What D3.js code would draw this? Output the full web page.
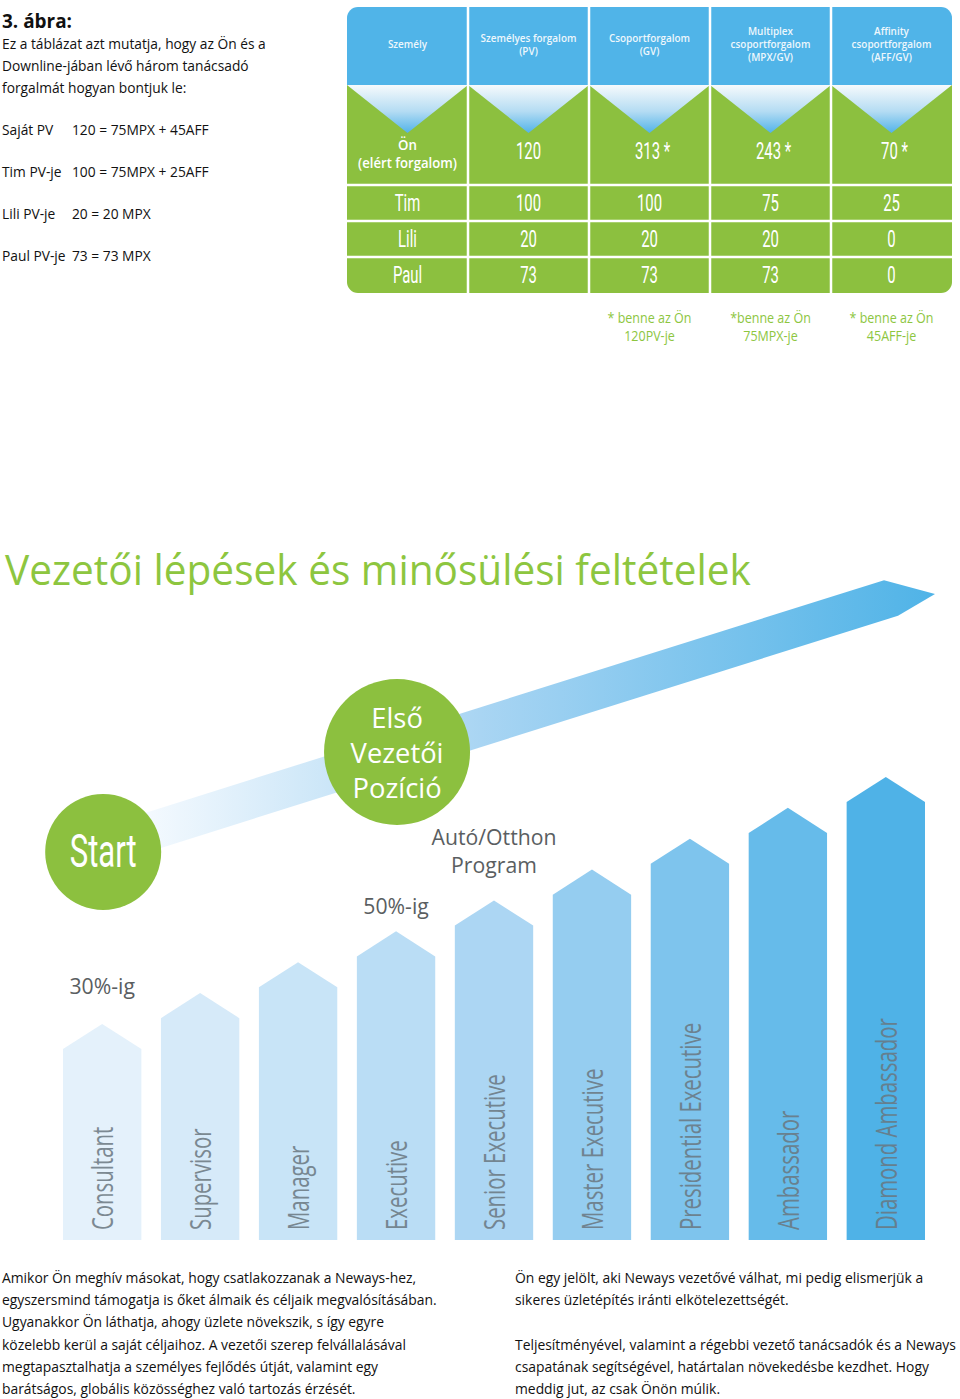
<!DOCTYPE html>
<html>
<head>
<meta charset="utf-8">
<script src="https://cdn.jsdelivr.net/npm/d3@7"></script>
<style>
  body { margin: 0; background: #fff; }
  svg { display: block; }
</style>
</head>
<body>
<div id="app"></div>
<script>
// ---- data ----
var introTitle = '3. ábra:';
var introLines = ['Ez a táblázat azt mutatja, hogy az Ön és a', 'Downline-jában lévő három tanácsadó', 'forgalmát hogyan bontjuk le:'];
var introLabels = ['Saját PV', 'Tim PV-je', 'Lili PV-je', 'Paul PV-je'];
var introFormulas = ['120 = 75MPX + 45AFF', '100 = 75MPX + 25AFF', '20 = 20 MPX', '73 = 73 MPX'];

var headerLines = [['Személy'], ['Személyes forgalom', '(PV)'], ['Csoportforgalom', '(GV)'],
  ['Multiplex', 'csoportforgalom', '(MPX/GV)'], ['Affinity', 'csoportforgalom', '(AFF/GV)']];
var ownLabel = ['Ön', '(elért forgalom)'];
var ownValues = [120, 313, 243, 70];
var ownStarred = [false, true, true, true];
var persons = ['Tim', 'Lili', 'Paul'];
var pvValues = [100, 20, 73];
var gvValues = [100, 20, 73];
var mpxValues = [75, 20, 73];
var affValues = [25, 0, 0];
var footnotes = [['* benne az Ön', '120PV-je'], ['*benne az Ön', '75MPX-je'], ['* benne az Ön', '45AFF-je']];

var chartTitle = 'Vezetői lépések és minősülési feltételek';
var levels = ['Consultant', 'Supervisor', 'Manager', 'Executive', 'Senior Executive',
  'Master Executive', 'Presidential Executive', 'Ambassador', 'Diamond Ambassador'];
var levelSteps = [7, 8, 9, 10, 11, 12, 13, 14, 15];
var startLabel = 'Start';
var firstLeaderLabel = ['Első', 'Vezetői', 'Pozíció'];
var carLabel = ['Autó/Otthon', 'Program'];
var pct30 = '30%-ig';
var pct50 = '50%-ig';

var bottomLeft = ['Amikor Ön meghív másokat, hogy csatlakozzanak a Neways-hez,',
  'egyszersmind támogatja is őket álmaik és céljaik megvalósításában.',
  'Ugyanakkor Ön láthatja, ahogy üzlete növekszik, s így egyre',
  'közelebb kerül a saját céljaihoz. A vezetői szerep felvállalásával',
  'megtapasztalhatja a személyes fejlődés útját, valamint egy',
  'barátságos, globális közösséghez való tartozás érzését.'];
var bottomRight = ['Ön egy jelölt, aki Neways vezetővé válhat, mi pedig elismerjük a',
  'sikeres üzletépítés iránti elkötelezettségét.', '',
  'Teljesítményével, valamint a régebbi vezető tanácsadók és a Neways',
  'csapatának segítségével, határtalan növekedésbe kezdhet. Hogy',
  'meddig jut, az csak Önön múlik.'];

// ---- setup ----
var W = 960, H = 1399;
var green = '#8cc03f', blue = '#50b4e8';
var svg = d3.select('#app').append('svg').attr('width', W).attr('height', H);
var defs = svg.append('defs');

function measure(str, font) {
  var t = svg.append('text').style('font', font).text(str);
  var w = t.node().getComputedTextLength();
  t.remove();
  return w;
}

// text with horizontal squeeze (k) and optional rotation
function label(parent, str, x, y, font, fill, anchor, k, rot) {
  var tr = 'translate(' + x + ',' + y + ')' + (rot ? ' rotate(' + rot + ')' : '') + ' scale(' + k + ',1)';
  return parent.append('text')
    .attr('transform', tr)
    .attr('text-anchor', anchor || 'start')
    .style('font', font)
    .attr('fill', fill)
    .text(str);
}

// ---- intro text ----
var bodyFont = '15px "Open Sans"';
var kBody = 264 / measure(introLines[0], bodyFont);
var intro = svg.append('g');
label(intro, introTitle, 2, 28, 'bold 20px "Open Sans"', '#111', 'start', 70 / measure(introTitle, 'bold 20px "Open Sans"'));
introLines.forEach(function (s, i) {
  label(intro, s, 2, 49 + i * 22, bodyFont, '#111', 'start', kBody);
});
introLabels.forEach(function (s, i) {
  label(intro, s, 2, 135 + i * 42, bodyFont, '#111', 'start', kBody);
  label(intro, introFormulas[i], 72, 135 + i * 42, bodyFont, '#111', 'start', kBody);
});

// ---- table ----
var tx0 = 347, tx1 = 952, ty0 = 7, ty1 = 293, headBottom = 85, ownBottom = 185;
var col = d3.scaleBand().domain(d3.range(5)).range([tx0, tx1]);
var row = d3.scaleBand().domain(persons).range([ownBottom, ty1]);

defs.append('clipPath').attr('id', 'tableClip')
  .append('rect').attr('x', tx0).attr('y', ty0).attr('width', tx1 - tx0).attr('height', ty1 - ty0).attr('rx', 11);
var triGrad = defs.append('linearGradient').attr('id', 'triGrad').attr('x1', 0).attr('y1', 0).attr('x2', 0).attr('y2', 1);
triGrad.append('stop').attr('offset', 0).attr('stop-color', '#f6fafc');
triGrad.append('stop').attr('offset', 0.55).attr('stop-color', '#b4dcf3');
triGrad.append('stop').attr('offset', 1).attr('stop-color', '#52b3e9');

var table = svg.append('g').attr('clip-path', 'url(#tableClip)');
table.append('rect').attr('x', tx0).attr('y', ty0).attr('width', tx1 - tx0).attr('height', headBottom - ty0).attr('fill', blue);
table.append('rect').attr('x', tx0).attr('y', headBottom).attr('width', tx1 - tx0).attr('height', ty1 - headBottom).attr('fill', green);
table.selectAll('path.tri').data(d3.range(5)).enter().append('path')
  .attr('class', 'tri')
  .attr('d', function (i) {
    var a = col(i), b = a + col.bandwidth();
    return 'M' + a + ',' + headBottom + 'L' + b + ',' + headBottom + 'L' + (a + b) / 2 + ',' + (headBottom + 48) + 'Z';
  })
  .attr('fill', 'url(#triGrad)');

// grid lines
table.selectAll('line.v').data(d3.range(1, 5)).enter().append('line')
  .attr('x1', function (i) { return col(i); }).attr('x2', function (i) { return col(i); })
  .attr('y1', ty0).attr('y2', ty1).attr('stroke', '#fff').attr('stroke-width', 2.5);
table.selectAll('line.h').data(persons).enter().append('line')
  .attr('x1', tx0).attr('x2', tx1)
  .attr('y1', function (d) { return row(d); }).attr('y2', function (d) { return row(d); })
  .attr('stroke', '#fff').attr('stroke-width', 2.5);

// header text
var headFont = '600 11px "Open Sans"';
var kHead = 96 / measure('Személyes forgalom', headFont);
headerLines.forEach(function (lines, i) {
  var cx = col(i) + col.bandwidth() / 2;
  var y0 = 48 - (lines.length - 1) * 6.5;
  lines.forEach(function (s, j) {
    label(table, s, cx, y0 + j * 13, headFont, '#fff', 'middle', kHead).attr('opacity', 0.9);
  });
});

// numbers
var numFont = '24px Roboto';
var kNum = 0.62;
var cx0 = col(0) + col.bandwidth() / 2;
label(table, ownLabel[0], cx0, 150, '600 14px "Open Sans"', '#fff', 'middle', 0.95);
label(table, ownLabel[1], cx0, 168, '600 14px "Open Sans"', '#fff', 'middle', 99 / measure(ownLabel[1], '600 14px "Open Sans"'));
ownValues.forEach(function (v, i) {
  var cx = col(i + 1) + col.bandwidth() / 2;
  label(table, v + (ownStarred[i] ? ' *' : ''), cx + (ownStarred[i] ? 3 : 0), 159, numFont, '#fff', 'middle', kNum);
});
var detailCols = [pvValues, gvValues, mpxValues, affValues];
persons.forEach(function (p, r) {
  var cy = row(p) + row.bandwidth() / 2 + 8;
  label(table, p, cx0, cy, numFont, '#fff', 'middle', kNum);
  detailCols.forEach(function (vals, c) {
    label(table, vals[r], col(c + 1) + col.bandwidth() / 2, cy, numFont, '#fff', 'middle', kNum);
  });
});

// footnotes
var noteFont = '14px "Open Sans"';
var kNote = 84 / measure(footnotes[0][0], noteFont);
footnotes.forEach(function (lines, i) {
  var cx = col(i + 2) + col.bandwidth() / 2;
  lines.forEach(function (s, j) {
    label(svg, s, cx, 323 + j * 18, noteFont, '#8dc63f', 'middle', kNote);
  });
});

// ---- title ----
var titleFont = '42px "Open Sans"';
label(svg, chartTitle, 5, 585, titleFont, '#8dc63f', 'start', 746 / measure(chartTitle, titleFont));

// ---- ramp band ----
var slope = -0.315, bandTop0 = 812, bandX0 = 148, bandH = 40;
function topY(x) { return bandTop0 + slope * (x - bandX0); }
var rampGrad = defs.append('linearGradient').attr('id', 'rampGrad')
  .attr('gradientUnits', 'userSpaceOnUse').attr('x1', 150).attr('y1', 0).attr('x2', 937).attr('y2', 0);
[[0, '#f3f9fe'], [0.3, '#bfe0f6'], [0.42, '#a9d5f3'], [1, '#4fb3e7']].forEach(function (s) {
  rampGrad.append('stop').attr('offset', s[0]).attr('stop-color', s[1]);
});
var ramp = [[130, topY(130)], [884, topY(884)], [935, 594], [898, topY(898) + bandH], [130, topY(130) + bandH]];
svg.append('path').attr('d', d3.line()(ramp) + 'Z').attr('fill', 'url(#rampGrad)');

// ---- bars ----
var x = d3.scaleBand().domain(levels).range([63, 925]).paddingInner(0.2).paddingOuter(0);
var y = d3.scaleLinear().domain([0, 15]).range([1240, 777]);
var barColor = d3.scaleLinear().domain([0, 4, 8]).range(['#e4f1fb', '#acd6f3', '#4fb2e7']);
var bw = x.bandwidth();
svg.append('g').selectAll('path').data(levels).enter().append('path')
  .attr('d', function (d, i) {
    var l = x(d), top = y(levelSteps[i]), sh = top + bw * 0.32;
    return 'M' + l + ',' + y(0) + 'V' + sh + 'L' + (l + bw / 2) + ',' + top + 'L' + (l + bw) + ',' + sh + 'V' + y(0) + 'Z';
  })
  .attr('fill', function (d, i) { return barColor(i); });

var barFont = '500 29px "Open Sans"';
var kBar = 212 / measure('Diamond Ambassador', barFont);
var barLabels = svg.append('g');
levels.forEach(function (d) {
  label(barLabels, d, x(d) + bw / 2 + 11, 1230, barFont, '#6a7780', 'start', kBar, -90).attr('opacity', 0.85);
});

// ---- milestones ----
var cStart = x(levels[0]) + bw / 2, cExec = x(levels[3]) + bw / 2, cSenior = x(levels[4]) + bw / 2;
svg.append('circle').attr('cx', cStart + 1).attr('cy', 852).attr('r', 58).attr('fill', green);
svg.append('circle').attr('cx', cExec + 1).attr('cy', 752).attr('r', 73).attr('fill', green);
label(svg, startLabel, cStart + 1, 867, '46px Roboto', '#fff', 'middle', 67 / measure(startLabel, '46px Roboto'));
var leadFont = '28px "Open Sans"';
var kLead = 93 / measure(firstLeaderLabel[1], leadFont);
firstLeaderLabel.forEach(function (s, i) {
  label(svg, s, cExec + 1, 728 + i * 35, leadFont, '#fff', 'middle', kLead);
});
var noteGrey = '#5a5e61';
var pFont = '500 22px "Open Sans"';
var kP = 125 / measure(carLabel[0], pFont);
carLabel.forEach(function (s, i) {
  label(svg, s, cSenior, 845 + i * 28, pFont, noteGrey, 'middle', kP);
});
label(svg, pct50, cExec, 914, pFont, noteGrey, 'middle', kP);
label(svg, pct30, cStart, 994, pFont, noteGrey, 'middle', kP);

// ---- bottom paragraphs ----
var kPara = 435 / measure(bottomLeft[1], bodyFont);
bottomLeft.forEach(function (s, i) {
  label(svg, s, 2, 1283 + i * 22.2, bodyFont, '#111', 'start', kPara);
});
bottomRight.forEach(function (s, i) {
  if (s) label(svg, s, 515, 1283 + i * 22.2, bodyFont, '#111', 'start', kPara);
});
</script>
</body>
</html>
